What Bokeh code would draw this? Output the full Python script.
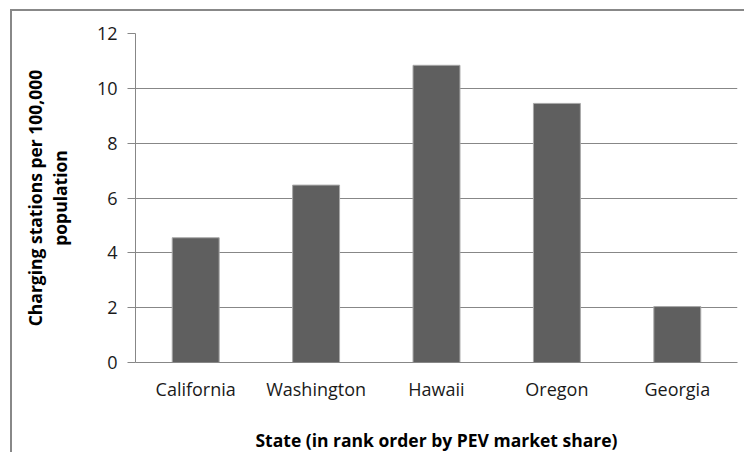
from bokeh.plotting import figure
from bokeh.models import ColumnDataSource, Range1d, FixedTicker
from bokeh.embed import file_html
from bokeh.resources import INLINE

states = ["California", "Washington", "Hawaii", "Oregon", "Georgia"]
stations = [4.55, 6.47, 10.84, 9.45, 2.04]
y_ticks = [0, 2, 4, 6, 8, 10, 12]

src = ColumnDataSource(data=dict(state=states, value=stations))

p = figure(x_range=states, y_range=Range1d(0, 12), width=734, height=443,
           output_backend="svg", toolbar_location=None,
           min_border_left=123, min_border_right=9, min_border_top=22, min_border_bottom=91)
# outer chart-area frame (its right and bottom edges fall outside the window)
p.styles = {"margin-left": "10px", "margin-top": "9px",
            "border-left": "2px solid #888888", "border-top": "2px solid #888888"}

p.vbar(x="state", top="value", width=0.39, source=src,
       fill_color="#5f5f5f", line_color="#a8a8a8", line_width=1)

p.outline_line_color = None
p.background_fill_color = "white"
p.border_fill_color = "white"

# grid
p.xgrid.grid_line_color = None
p.ygrid.grid_line_color = "#878787"
p.ygrid.grid_line_width = 1

# y axis
p.yaxis.ticker = FixedTicker(ticks=y_ticks)
p.yaxis.minor_tick_line_color = None
p.yaxis.major_tick_in = 0
p.yaxis.major_tick_out = 8
p.yaxis.major_tick_line_color = "#878787"
p.yaxis.axis_line_color = "#878787"
p.yaxis.major_label_standoff = 10
p.yaxis.major_label_text_font = "Open Sans"
p.yaxis.major_label_text_font_size = "18px"
p.yaxis.major_label_text_color = "#1a1a1a"
p.yaxis.axis_label = "Charging stations per 100,000\npopulation"
p.yaxis.axis_label_text_font = "Open Sans"
p.yaxis.axis_label_text_font_size = "17.5px"
p.yaxis.axis_label_text_font_style = "bold"
p.yaxis.axis_label_text_color = "#000000"
p.yaxis.axis_label_standoff = 22
p.yaxis.axis_label_text_line_height = 1.05

# x axis
p.xaxis.major_tick_line_color = None
p.xaxis.minor_tick_line_color = None
p.xaxis.major_tick_out = 0
p.xaxis.major_tick_in = 0
p.xaxis.axis_line_color = "#878787"
p.xaxis.major_label_standoff = 14
p.xaxis.major_label_text_font = "Open Sans"
p.xaxis.major_label_text_font_size = "18px"
p.xaxis.major_label_text_color = "#1a1a1a"
p.xaxis.axis_label = "State (in rank order by PEV market share)"
p.xaxis.axis_label_text_font = "Open Sans"
p.xaxis.axis_label_text_font_size = "17.5px"
p.xaxis.axis_label_text_font_style = "bold"
p.xaxis.axis_label_text_color = "#000000"
p.xaxis.axis_label_standoff = 24

p.x_range.range_padding = 0

open("out.html", "w").write(file_html(p, INLINE))
